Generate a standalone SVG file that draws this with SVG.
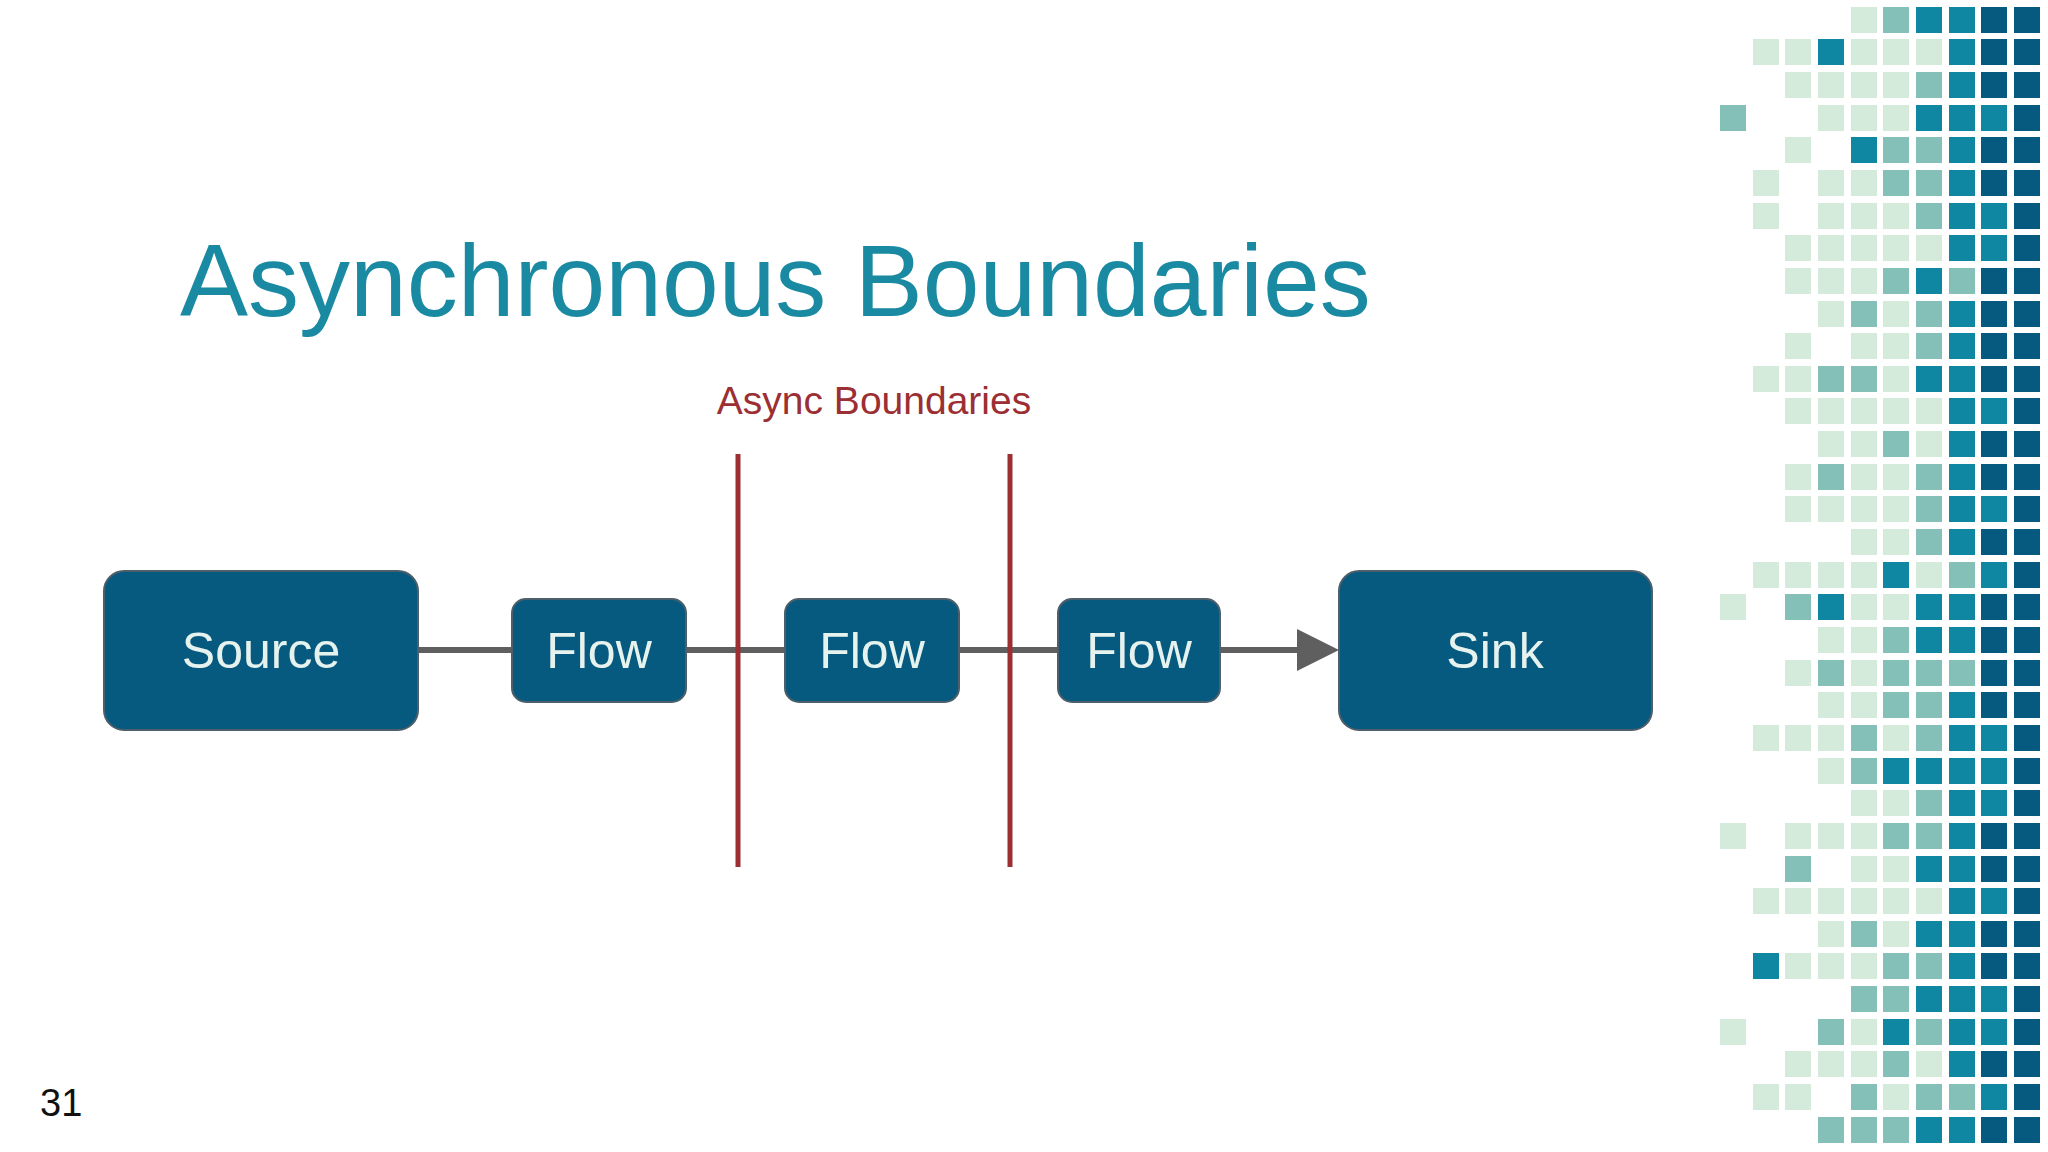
<svg xmlns="http://www.w3.org/2000/svg" xmlns:xlink="http://www.w3.org/1999/xlink" width="2048" height="1152" viewBox="0 0 2048 1152">
<defs>
<style>
.L{fill:#d4eadb}.M{fill:#84c0b7}.T{fill:#0f87a3}.D{fill:#065a80}
.box{fill:#065a80;stroke:#4d5f6a;stroke-width:2}
.lbl{font-family:"Liberation Sans",Arial,sans-serif;font-size:50px;fill:#e6f2ee;text-anchor:middle}
.bnd{stroke:#9b2f33;stroke-width:5}
</style>
<rect id="q" width="26" height="26"/>
</defs>
<rect width="2048" height="1152" fill="#ffffff"/>
<text x="180" y="316" font-family="&quot;Liberation Sans&quot;,Arial,sans-serif" font-size="102" fill="#1a8aa2">Asynchronous Boundaries</text>
<text x="874" y="414" font-family="&quot;Liberation Sans&quot;,Arial,sans-serif" font-size="39" fill="#9b2f33" text-anchor="middle">Async Boundaries</text>
<g id="connectors">
<line x1="418" y1="650" x2="1300" y2="650" stroke="#5f5f5f" stroke-width="6"/>
<path d="M1297,629 L1339,650 L1297,671 Z" fill="#5f5f5f"/>
</g>
<g id="boundaries">
<line class="bnd" x1="738" y1="454" x2="738" y2="867"/>
<line class="bnd" x1="1010" y1="454" x2="1010" y2="867"/>
</g>
<g id="source"><rect class="box" x="104" y="571" width="314" height="159" rx="20"/><text class="lbl" x="261" y="668">Source</text></g>
<g id="flow1"><rect class="box" x="512" y="599" width="174" height="103" rx="14"/><text class="lbl" x="599" y="668">Flow</text></g>
<g id="flow2"><rect class="box" x="785" y="599" width="174" height="103" rx="14"/><text class="lbl" x="872" y="668">Flow</text></g>
<g id="flow3"><rect class="box" x="1058" y="599" width="162" height="103" rx="14"/><text class="lbl" x="1139" y="668">Flow</text></g>
<g id="sink"><rect class="box" x="1339" y="571" width="313" height="159" rx="20"/><text class="lbl" x="1495" y="668">Sink</text></g>
<text x="40" y="1116" font-family="&quot;Liberation Sans&quot;,Arial,sans-serif" font-size="38" fill="#111">31</text>
<g id="mosaic">
<use href="#q" class="L" x="1851" y="7"/><use href="#q" class="M" x="1883" y="7"/><use href="#q" class="T" x="1916" y="7"/><use href="#q" class="T" x="1949" y="7"/><use href="#q" class="D" x="1981" y="7"/><use href="#q" class="D" x="2014" y="7"/>
<use href="#q" class="L" x="1753" y="39"/><use href="#q" class="L" x="1785" y="39"/><use href="#q" class="T" x="1818" y="39"/><use href="#q" class="L" x="1851" y="39"/><use href="#q" class="L" x="1883" y="39"/><use href="#q" class="L" x="1916" y="39"/><use href="#q" class="T" x="1949" y="39"/><use href="#q" class="D" x="1981" y="39"/><use href="#q" class="D" x="2014" y="39"/>
<use href="#q" class="L" x="1785" y="72"/><use href="#q" class="L" x="1818" y="72"/><use href="#q" class="L" x="1851" y="72"/><use href="#q" class="L" x="1883" y="72"/><use href="#q" class="M" x="1916" y="72"/><use href="#q" class="T" x="1949" y="72"/><use href="#q" class="D" x="1981" y="72"/><use href="#q" class="D" x="2014" y="72"/>
<use href="#q" class="M" x="1720" y="105"/><use href="#q" class="L" x="1818" y="105"/><use href="#q" class="L" x="1851" y="105"/><use href="#q" class="L" x="1883" y="105"/><use href="#q" class="T" x="1916" y="105"/><use href="#q" class="T" x="1949" y="105"/><use href="#q" class="T" x="1981" y="105"/><use href="#q" class="D" x="2014" y="105"/>
<use href="#q" class="L" x="1785" y="137"/><use href="#q" class="T" x="1851" y="137"/><use href="#q" class="M" x="1883" y="137"/><use href="#q" class="M" x="1916" y="137"/><use href="#q" class="T" x="1949" y="137"/><use href="#q" class="D" x="1981" y="137"/><use href="#q" class="D" x="2014" y="137"/>
<use href="#q" class="L" x="1753" y="170"/><use href="#q" class="L" x="1818" y="170"/><use href="#q" class="L" x="1851" y="170"/><use href="#q" class="M" x="1883" y="170"/><use href="#q" class="M" x="1916" y="170"/><use href="#q" class="T" x="1949" y="170"/><use href="#q" class="D" x="1981" y="170"/><use href="#q" class="D" x="2014" y="170"/>
<use href="#q" class="L" x="1753" y="203"/><use href="#q" class="L" x="1818" y="203"/><use href="#q" class="L" x="1851" y="203"/><use href="#q" class="L" x="1883" y="203"/><use href="#q" class="M" x="1916" y="203"/><use href="#q" class="T" x="1949" y="203"/><use href="#q" class="T" x="1981" y="203"/><use href="#q" class="D" x="2014" y="203"/>
<use href="#q" class="L" x="1785" y="235"/><use href="#q" class="L" x="1818" y="235"/><use href="#q" class="L" x="1851" y="235"/><use href="#q" class="L" x="1883" y="235"/><use href="#q" class="L" x="1916" y="235"/><use href="#q" class="T" x="1949" y="235"/><use href="#q" class="T" x="1981" y="235"/><use href="#q" class="D" x="2014" y="235"/>
<use href="#q" class="L" x="1785" y="268"/><use href="#q" class="L" x="1818" y="268"/><use href="#q" class="L" x="1851" y="268"/><use href="#q" class="M" x="1883" y="268"/><use href="#q" class="T" x="1916" y="268"/><use href="#q" class="M" x="1949" y="268"/><use href="#q" class="D" x="1981" y="268"/><use href="#q" class="D" x="2014" y="268"/>
<use href="#q" class="L" x="1818" y="301"/><use href="#q" class="M" x="1851" y="301"/><use href="#q" class="L" x="1883" y="301"/><use href="#q" class="M" x="1916" y="301"/><use href="#q" class="T" x="1949" y="301"/><use href="#q" class="D" x="1981" y="301"/><use href="#q" class="D" x="2014" y="301"/>
<use href="#q" class="L" x="1785" y="333"/><use href="#q" class="L" x="1851" y="333"/><use href="#q" class="L" x="1883" y="333"/><use href="#q" class="M" x="1916" y="333"/><use href="#q" class="T" x="1949" y="333"/><use href="#q" class="D" x="1981" y="333"/><use href="#q" class="D" x="2014" y="333"/>
<use href="#q" class="L" x="1753" y="366"/><use href="#q" class="L" x="1785" y="366"/><use href="#q" class="M" x="1818" y="366"/><use href="#q" class="M" x="1851" y="366"/><use href="#q" class="L" x="1883" y="366"/><use href="#q" class="T" x="1916" y="366"/><use href="#q" class="T" x="1949" y="366"/><use href="#q" class="D" x="1981" y="366"/><use href="#q" class="D" x="2014" y="366"/>
<use href="#q" class="L" x="1785" y="398"/><use href="#q" class="L" x="1818" y="398"/><use href="#q" class="L" x="1851" y="398"/><use href="#q" class="L" x="1883" y="398"/><use href="#q" class="L" x="1916" y="398"/><use href="#q" class="T" x="1949" y="398"/><use href="#q" class="T" x="1981" y="398"/><use href="#q" class="D" x="2014" y="398"/>
<use href="#q" class="L" x="1818" y="431"/><use href="#q" class="L" x="1851" y="431"/><use href="#q" class="M" x="1883" y="431"/><use href="#q" class="L" x="1916" y="431"/><use href="#q" class="T" x="1949" y="431"/><use href="#q" class="D" x="1981" y="431"/><use href="#q" class="D" x="2014" y="431"/>
<use href="#q" class="L" x="1785" y="464"/><use href="#q" class="M" x="1818" y="464"/><use href="#q" class="L" x="1851" y="464"/><use href="#q" class="L" x="1883" y="464"/><use href="#q" class="M" x="1916" y="464"/><use href="#q" class="T" x="1949" y="464"/><use href="#q" class="D" x="1981" y="464"/><use href="#q" class="D" x="2014" y="464"/>
<use href="#q" class="L" x="1785" y="496"/><use href="#q" class="L" x="1818" y="496"/><use href="#q" class="L" x="1851" y="496"/><use href="#q" class="L" x="1883" y="496"/><use href="#q" class="M" x="1916" y="496"/><use href="#q" class="T" x="1949" y="496"/><use href="#q" class="T" x="1981" y="496"/><use href="#q" class="D" x="2014" y="496"/>
<use href="#q" class="L" x="1851" y="529"/><use href="#q" class="L" x="1883" y="529"/><use href="#q" class="M" x="1916" y="529"/><use href="#q" class="T" x="1949" y="529"/><use href="#q" class="D" x="1981" y="529"/><use href="#q" class="D" x="2014" y="529"/>
<use href="#q" class="L" x="1753" y="562"/><use href="#q" class="L" x="1785" y="562"/><use href="#q" class="L" x="1818" y="562"/><use href="#q" class="L" x="1851" y="562"/><use href="#q" class="T" x="1883" y="562"/><use href="#q" class="L" x="1916" y="562"/><use href="#q" class="M" x="1949" y="562"/><use href="#q" class="T" x="1981" y="562"/><use href="#q" class="D" x="2014" y="562"/>
<use href="#q" class="L" x="1720" y="594"/><use href="#q" class="M" x="1785" y="594"/><use href="#q" class="T" x="1818" y="594"/><use href="#q" class="L" x="1851" y="594"/><use href="#q" class="L" x="1883" y="594"/><use href="#q" class="T" x="1916" y="594"/><use href="#q" class="T" x="1949" y="594"/><use href="#q" class="D" x="1981" y="594"/><use href="#q" class="D" x="2014" y="594"/>
<use href="#q" class="L" x="1818" y="627"/><use href="#q" class="L" x="1851" y="627"/><use href="#q" class="M" x="1883" y="627"/><use href="#q" class="T" x="1916" y="627"/><use href="#q" class="T" x="1949" y="627"/><use href="#q" class="D" x="1981" y="627"/><use href="#q" class="D" x="2014" y="627"/>
<use href="#q" class="L" x="1785" y="660"/><use href="#q" class="M" x="1818" y="660"/><use href="#q" class="L" x="1851" y="660"/><use href="#q" class="M" x="1883" y="660"/><use href="#q" class="M" x="1916" y="660"/><use href="#q" class="M" x="1949" y="660"/><use href="#q" class="D" x="1981" y="660"/><use href="#q" class="D" x="2014" y="660"/>
<use href="#q" class="L" x="1818" y="692"/><use href="#q" class="L" x="1851" y="692"/><use href="#q" class="M" x="1883" y="692"/><use href="#q" class="M" x="1916" y="692"/><use href="#q" class="T" x="1949" y="692"/><use href="#q" class="D" x="1981" y="692"/><use href="#q" class="D" x="2014" y="692"/>
<use href="#q" class="L" x="1753" y="725"/><use href="#q" class="L" x="1785" y="725"/><use href="#q" class="L" x="1818" y="725"/><use href="#q" class="M" x="1851" y="725"/><use href="#q" class="L" x="1883" y="725"/><use href="#q" class="M" x="1916" y="725"/><use href="#q" class="T" x="1949" y="725"/><use href="#q" class="T" x="1981" y="725"/><use href="#q" class="D" x="2014" y="725"/>
<use href="#q" class="L" x="1818" y="758"/><use href="#q" class="M" x="1851" y="758"/><use href="#q" class="T" x="1883" y="758"/><use href="#q" class="T" x="1916" y="758"/><use href="#q" class="T" x="1949" y="758"/><use href="#q" class="T" x="1981" y="758"/><use href="#q" class="D" x="2014" y="758"/>
<use href="#q" class="L" x="1851" y="790"/><use href="#q" class="L" x="1883" y="790"/><use href="#q" class="M" x="1916" y="790"/><use href="#q" class="T" x="1949" y="790"/><use href="#q" class="T" x="1981" y="790"/><use href="#q" class="D" x="2014" y="790"/>
<use href="#q" class="L" x="1720" y="823"/><use href="#q" class="L" x="1785" y="823"/><use href="#q" class="L" x="1818" y="823"/><use href="#q" class="L" x="1851" y="823"/><use href="#q" class="M" x="1883" y="823"/><use href="#q" class="M" x="1916" y="823"/><use href="#q" class="T" x="1949" y="823"/><use href="#q" class="D" x="1981" y="823"/><use href="#q" class="D" x="2014" y="823"/>
<use href="#q" class="M" x="1785" y="856"/><use href="#q" class="L" x="1851" y="856"/><use href="#q" class="L" x="1883" y="856"/><use href="#q" class="T" x="1916" y="856"/><use href="#q" class="T" x="1949" y="856"/><use href="#q" class="D" x="1981" y="856"/><use href="#q" class="D" x="2014" y="856"/>
<use href="#q" class="L" x="1753" y="888"/><use href="#q" class="L" x="1785" y="888"/><use href="#q" class="L" x="1818" y="888"/><use href="#q" class="L" x="1851" y="888"/><use href="#q" class="L" x="1883" y="888"/><use href="#q" class="L" x="1916" y="888"/><use href="#q" class="T" x="1949" y="888"/><use href="#q" class="T" x="1981" y="888"/><use href="#q" class="D" x="2014" y="888"/>
<use href="#q" class="L" x="1818" y="921"/><use href="#q" class="M" x="1851" y="921"/><use href="#q" class="L" x="1883" y="921"/><use href="#q" class="T" x="1916" y="921"/><use href="#q" class="T" x="1949" y="921"/><use href="#q" class="D" x="1981" y="921"/><use href="#q" class="D" x="2014" y="921"/>
<use href="#q" class="T" x="1753" y="953"/><use href="#q" class="L" x="1785" y="953"/><use href="#q" class="L" x="1818" y="953"/><use href="#q" class="L" x="1851" y="953"/><use href="#q" class="M" x="1883" y="953"/><use href="#q" class="M" x="1916" y="953"/><use href="#q" class="T" x="1949" y="953"/><use href="#q" class="D" x="1981" y="953"/><use href="#q" class="D" x="2014" y="953"/>
<use href="#q" class="M" x="1851" y="986"/><use href="#q" class="M" x="1883" y="986"/><use href="#q" class="T" x="1916" y="986"/><use href="#q" class="T" x="1949" y="986"/><use href="#q" class="T" x="1981" y="986"/><use href="#q" class="D" x="2014" y="986"/>
<use href="#q" class="L" x="1720" y="1019"/><use href="#q" class="M" x="1818" y="1019"/><use href="#q" class="L" x="1851" y="1019"/><use href="#q" class="T" x="1883" y="1019"/><use href="#q" class="M" x="1916" y="1019"/><use href="#q" class="T" x="1949" y="1019"/><use href="#q" class="T" x="1981" y="1019"/><use href="#q" class="D" x="2014" y="1019"/>
<use href="#q" class="L" x="1785" y="1051"/><use href="#q" class="L" x="1818" y="1051"/><use href="#q" class="L" x="1851" y="1051"/><use href="#q" class="M" x="1883" y="1051"/><use href="#q" class="L" x="1916" y="1051"/><use href="#q" class="T" x="1949" y="1051"/><use href="#q" class="D" x="1981" y="1051"/><use href="#q" class="D" x="2014" y="1051"/>
<use href="#q" class="L" x="1753" y="1084"/><use href="#q" class="L" x="1785" y="1084"/><use href="#q" class="M" x="1851" y="1084"/><use href="#q" class="L" x="1883" y="1084"/><use href="#q" class="M" x="1916" y="1084"/><use href="#q" class="M" x="1949" y="1084"/><use href="#q" class="T" x="1981" y="1084"/><use href="#q" class="D" x="2014" y="1084"/>
<use href="#q" class="M" x="1818" y="1117"/><use href="#q" class="M" x="1851" y="1117"/><use href="#q" class="M" x="1883" y="1117"/><use href="#q" class="T" x="1916" y="1117"/><use href="#q" class="T" x="1949" y="1117"/><use href="#q" class="D" x="1981" y="1117"/><use href="#q" class="D" x="2014" y="1117"/>
</g>
</svg>
